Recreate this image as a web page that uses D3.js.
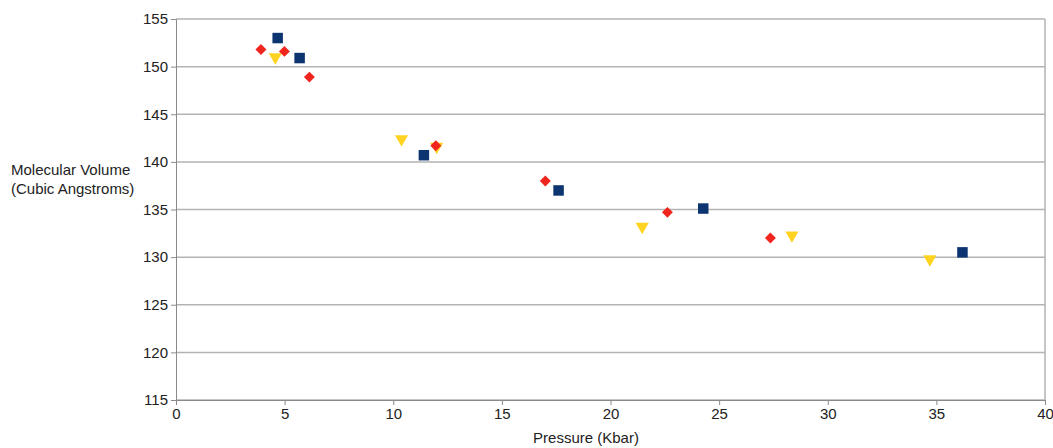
<!DOCTYPE html>
<html>
<head>
<meta charset="utf-8">
<script src="https://cdn.jsdelivr.net/npm/d3@7"></script>
<style>
  html, body { margin: 0; padding: 0; background: #fff; }
  svg { display: block; font-family: "Liberation Sans", Arial, sans-serif; }
</style>
</head>
<body>
<svg id="chart" width="1053" height="448"></svg>
<script>
// Pressure (Kbar) and molecular volume (cubic angstroms) for three runs
const seriesA_pressure = [4.68, 5.69, 11.41, 17.61, 24.27, 36.2];
const seriesA_volume   = [153.0, 150.9, 140.7, 137.0, 135.1, 130.5];

const seriesB_pressure = [3.91, 4.99, 6.14, 11.96, 17.0, 22.62, 27.36];
const seriesB_volume   = [151.8, 151.6, 148.9, 141.7, 138.0, 134.7, 132.0];

const seriesC_pressure = [4.57, 10.38, 12.0, 21.46, 28.35, 34.7];
const seriesC_volume   = [151.0, 142.4, 141.6, 133.2, 132.3, 129.8];

const xTicks = [0, 5, 10, 15, 20, 25, 30, 35, 40];
const yTicks = [115, 120, 125, 130, 135, 140, 145, 150, 155];

const svg = d3.select("#chart");
const plotLeft = 176, plotRight = 1045, plotTop = 19, plotBottom = 400;

const x = d3.scaleLinear().domain([0, 40]).range([plotLeft, plotRight]);
const y = d3.scaleLinear().domain([115, 155]).range([plotBottom, plotTop]);

// horizontal grid lines
svg.append("g")
  .selectAll("line")
  .data(yTicks)
  .join("line")
  .attr("x1", plotLeft).attr("x2", plotRight)
  .attr("y1", d => y(d)).attr("y2", d => y(d))
  .attr("stroke", "#b3b3b3").attr("stroke-width", 1.5);

// right frame edge
svg.append("line")
  .attr("x1", plotRight).attr("x2", plotRight).attr("y1", plotTop).attr("y2", plotBottom)
  .attr("stroke", "#b3b3b3").attr("stroke-width", 1.5);

// y axis
const yAxis = svg.append("g")
  .attr("transform", `translate(${plotLeft},0)`)
  .call(d3.axisLeft(y).tickValues(yTicks).tickSize(5).tickPadding(3).tickFormat(d3.format("d")));
yAxis.select(".domain").attr("stroke", "#8a8a8a");
yAxis.selectAll(".tick line").attr("stroke", "#8a8a8a");
yAxis.selectAll("text").attr("font-size", 15).attr("fill", "#222")
  .attr("font-family", "Liberation Sans, Arial, sans-serif");

// x axis
const xAxis = svg.append("g")
  .attr("transform", `translate(0,${plotBottom})`)
  .call(d3.axisBottom(x).tickValues(xTicks).tickSize(5).tickPadding(3).tickFormat(d3.format("d")));
xAxis.select(".domain").attr("stroke", "#8a8a8a");
xAxis.selectAll(".tick line").attr("stroke", "#8a8a8a");
xAxis.selectAll("text").attr("font-size", 15).attr("fill", "#222")
  .attr("font-family", "Liberation Sans, Arial, sans-serif");

// axis titles
svg.append("text")
  .attr("x", 586).attr("y", 443)
  .attr("text-anchor", "middle")
  .attr("font-size", 15).attr("fill", "#222")
  .text("Pressure (Kbar)");

const yTitle = svg.append("text")
  .attr("x", 11).attr("font-size", 15).attr("fill", "#222");
yTitle.append("tspan").attr("x", 11).attr("y", 175).text("Molecular Volume");
yTitle.append("tspan").attr("x", 11).attr("y", 194).text("(Cubic Angstroms)");

function pts(px, vy) { return px.map((p, i) => ({ p, v: vy[i] })); }

// series A: navy squares
svg.append("g").selectAll("path")
  .data(pts(seriesA_pressure, seriesA_volume))
  .join("path")
  .attr("d", d3.symbol(d3.symbolSquare, 110))
  .attr("transform", d => `translate(${x(d.p)},${y(d.v)})`)
  .attr("fill", "#0b3470");

// series C: yellow down-pointing triangles
svg.append("g").selectAll("path")
  .data(pts(seriesC_pressure, seriesC_volume))
  .join("path")
  .attr("d", d3.symbol(d3.symbolTriangle, 75))
  .attr("transform", d => `translate(${x(d.p)},${y(d.v)}) rotate(180)`)
  .attr("fill", "#ffd320");

// series B: red diamonds
svg.append("g").selectAll("path")
  .data(pts(seriesB_pressure, seriesB_volume))
  .join("path")
  .attr("d", d3.symbol(d3.symbolSquare, 60))
  .attr("transform", d => `translate(${x(d.p)},${y(d.v)}) rotate(45)`)
  .attr("fill", "#f0251e");
</script>
</body>
</html>
